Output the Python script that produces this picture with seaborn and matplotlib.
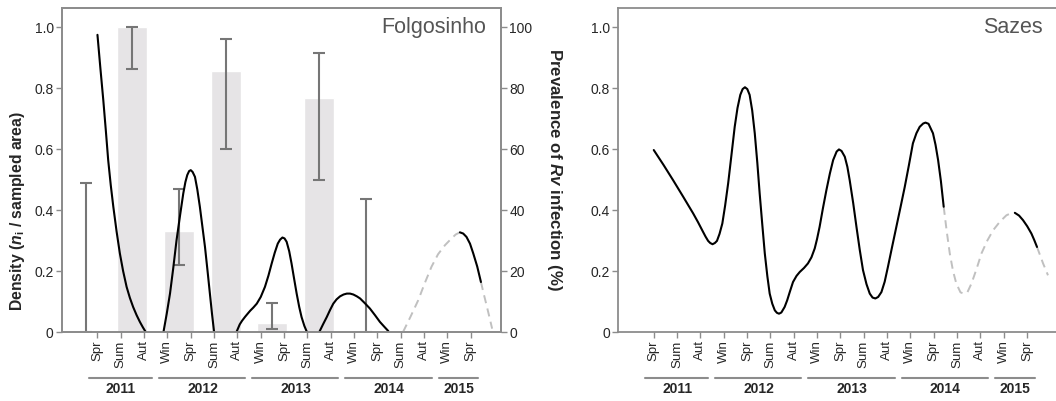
import numpy as np
import pandas as pd
import matplotlib.pyplot as plt
import seaborn as sns

sns.set_style("ticks")
plt.rcParams['font.family'] = ['Liberation Sans', 'DejaVu Sans']
plt.rcParams['mathtext.fontset'] = 'custom'
plt.rcParams['mathtext.it'] = 'Liberation Sans:italic:bold'
plt.rcParams['mathtext.rm'] = 'Liberation Sans:bold'

# axis labels
seasons = ["Spr", "Sum", "Aut", "Win", "Spr", "Sum", "Aut", "Win", "Spr",
           "Sum", "Aut", "Win", "Spr", "Sum", "Aut", "Win", "Spr"]
years = ["2011", "2012", "2013", "2014", "2015"]
year_first = [0, 3, 7, 11, 15]
year_last = [2, 6, 10, 14, 16]
dens_ticks = [0, 0.2, 0.4, 0.6, 0.8, 1.0]
dens_labels = ["0", "0.2", "0.4", "0.6", "0.8", "1.0"]
prev_ticks = [0, 20, 40, 60, 80, 100]

# prevalence of Rv infection in Folgosinho (%), with CI
bar_pos = [-0.5, 1.5, 3.5, 5.5, 7.5, 9.5, 11.5]
bar_prev = [0, 100, 33.2, 85.6, 3.0, 76.7, 0]
bar_lo = [0, 86.2, 21.9, 60.2, 0.9, 49.8, 0]
bar_hi = [49, 100, 46.9, 96.2, 9.5, 91.7, 43.5]

nan = np.nan
# density curve Folgosinho, observed parts (nan = break between pieces)
folg_x = [0.0, 0.12, 0.25, 0.36, 0.46, 0.57, 0.68, 0.82, 0.96, 1.1, 1.25, 1.39, 1.53, 1.68, 1.82, 1.95, 2.07, nan,
          2.83, 2.97, 3.11, 3.25, 3.39, 3.54, 3.68, 3.77, 3.85, 3.93, 4.0, 4.08, 4.18, 4.28, 4.39, 4.5, 4.61, 4.72, 4.82, 4.91, 5.0, nan,
          5.96, 6.1, 6.2, 6.33, 6.45, 6.55, 6.68, 6.83, 7.0, 7.18, 7.33, 7.47, 7.6, 7.73, 7.83, 7.93, 8.02, 8.11, 8.22, 8.32, 8.43, 8.54, 8.65, 8.75, 8.87, 8.98, nan,
          9.51, 9.67, 9.83, 9.97, 10.11, 10.25, 10.4, 10.55, 10.69, 10.83, 10.97, 11.12, 11.26, 11.47, 11.68, 11.9, 12.11, 12.3, 12.47, nan,
          15.54, 15.68, 15.82, 15.97, 16.11, 16.28, 16.44]
folg_y = [0.975, 0.87, 0.761, 0.66, 0.564, 0.482, 0.411, 0.33, 0.258, 0.2, 0.148, 0.112, 0.082, 0.055, 0.033, 0.015, 0.0, nan,
          0.0, 0.06, 0.126, 0.21, 0.301, 0.382, 0.455, 0.492, 0.515, 0.528, 0.531, 0.525, 0.509, 0.468, 0.411, 0.345, 0.279, 0.2, 0.126, 0.06, 0.0, nan,
          0.0, 0.025, 0.037, 0.05, 0.061, 0.07, 0.08, 0.093, 0.115, 0.148, 0.185, 0.225, 0.26, 0.29, 0.303, 0.31, 0.307, 0.296, 0.265, 0.225, 0.175, 0.126, 0.082, 0.049, 0.02, 0.0, nan,
          0.0, 0.025, 0.049, 0.072, 0.093, 0.107, 0.117, 0.123, 0.126, 0.126, 0.123, 0.117, 0.11, 0.094, 0.077, 0.055, 0.033, 0.017, 0.003, nan,
          0.327, 0.323, 0.312, 0.29, 0.258, 0.215, 0.164]

# density curve Folgosinho, missing parts (dashed)
folg_gap_x = [13.1, 13.42, 13.75, 14.03, 14.32, 14.6, 14.9, 15.18, 15.36, 15.54, nan,
              16.44, 16.56, 16.68, 16.8, 16.92]
folg_gap_y = [0.0, 0.05, 0.104, 0.16, 0.214, 0.255, 0.285, 0.307, 0.32, 0.327, nan,
              0.164, 0.125, 0.088, 0.05, 0.011]

# density curve Sazes
saz_x = [0.0, 0.42, 0.83, 1.26, 1.69, 1.9, 2.11, 2.22, 2.33, 2.42, 2.52, 2.62, 2.71, 2.82, 2.94,
         3.06, 3.19, 3.33, 3.47, 3.59, 3.71, 3.81, 3.91, 4.01, 4.11, 4.22, 4.33, 4.44, 4.54,
         4.65, 4.76, 4.87, 4.97, 5.08, 5.19, 5.28, 5.37, 5.47, 5.61, 5.72, 5.83, 5.97, 6.12,
         6.26, 6.44, 6.61, 6.76, 6.9, 7.0, 7.11, 7.25, 7.4, 7.55, 7.69, 7.84, 7.94, 8.05,
         8.19, 8.3, 8.4, 8.55, 8.69, 8.83, 8.97, 9.12, 9.26, 9.38, 9.5, 9.62, 9.76, 9.9,
         10.04, 10.22, 10.4, 10.58, 10.76, 10.94, 11.11, 11.26, 11.4, 11.55, 11.65, 11.78,
         11.97, 12.08, 12.19, 12.31, 12.43, nan,
         15.48, 15.66, 15.83, 16.01, 16.19, 16.31, 16.43]
saz_y = [0.597, 0.548, 0.498, 0.444, 0.389, 0.36, 0.329, 0.313, 0.299, 0.292, 0.288, 0.292, 0.299, 0.322, 0.356,
         0.415, 0.488, 0.58, 0.673, 0.735, 0.778, 0.797, 0.803, 0.797, 0.778, 0.727, 0.652, 0.555, 0.455,
         0.355, 0.258, 0.183, 0.126, 0.093, 0.071, 0.063, 0.06, 0.064, 0.082, 0.104, 0.131, 0.164, 0.184,
         0.197, 0.21, 0.225, 0.245, 0.274, 0.305, 0.345, 0.405, 0.465, 0.52, 0.564, 0.592, 0.599, 0.594,
         0.575, 0.542, 0.498, 0.423, 0.345, 0.27, 0.203, 0.157, 0.126, 0.113, 0.11, 0.115, 0.131, 0.165,
         0.214, 0.28, 0.345, 0.41, 0.476, 0.548, 0.619, 0.652, 0.673, 0.684, 0.687, 0.683,
         0.652, 0.614, 0.564, 0.495, 0.411, nan,
         0.391, 0.382, 0.367, 0.347, 0.323, 0.302, 0.279]

saz_gap_x = [12.43, 12.56, 12.69, 12.83, 12.97, 13.15, 13.29, 13.45, 13.62, 13.83, 14.05, 14.3,
             14.55, 14.84, 15.12, 15.3, 15.48, nan,
             16.43, 16.56, 16.69, 16.8, 16.9]
saz_gap_y = [0.411, 0.33, 0.258, 0.2, 0.159, 0.13, 0.126, 0.131, 0.159, 0.205, 0.258, 0.3,
             0.334, 0.362, 0.383, 0.389, 0.391, nan,
             0.279, 0.252, 0.225, 0.205, 0.186]

GREY = '#8c8c8c'


def pieces(x, y):
    df = pd.DataFrame({"x": x, "y": y})
    df["seg"] = df["x"].isna().cumsum()
    return df.dropna()


def curve(ax, x, y, gx, gy):
    sns.lineplot(data=pieces(gx, gy), x="x", y="y", units="seg", estimator=None,
                 color='#c0c0c0', lw=1.4, linestyle=(0, (4.2, 2.8)), legend=False, ax=ax)
    sns.lineplot(data=pieces(x, y), x="x", y="y", units="seg", estimator=None,
                 color='black', lw=1.5, legend=False, ax=ax)


def style(ax, title):
    ax.set_xlim(-1.52, 17.3)
    ax.set_ylim(0, 1.063)
    ax.set_xticks(range(len(seasons)))
    ax.set_xticklabels(seasons, rotation=90, fontsize=9.5)
    ax.set_yticks(dens_ticks)
    ax.set_yticklabels(dens_labels, fontsize=10)
    ax.tick_params(direction='out', length=4, width=1, color=GREY, pad=2)
    ax.set_xlabel("")
    ax.set_ylabel("")
    for s in ax.spines.values():
        s.set_color(GREY)
        s.set_linewidth(1.3)
    ax.text(0.966, 0.94, title, transform=ax.transAxes, ha='right', va='center',
            fontsize=15.5, color='#555555')
    trans = ax.get_xaxis_transform()
    for yr, f, l in zip(years, year_first, year_last):
        ax.plot([f - 0.37, l + 0.33], [-0.141, -0.141], transform=trans, clip_on=False,
                color=GREY, lw=1.5)
        ax.text((f + l) / 2, -0.177, yr, transform=trans, ha='center', va='center',
                fontsize=10, fontweight='bold')


fig = plt.figure(figsize=(10.56, 4.01), dpi=100)
ax1 = fig.add_axes([62 / 1056, 69 / 401, 439 / 1056, 324 / 401])
ax3 = fig.add_axes([618.3 / 1056, 69 / 401, 439 / 1056, 324 / 401])
ax2 = ax1.twinx()

# prevalence bars on the right axis
sns.barplot(x=bar_pos, y=bar_prev, native_scale=True, width=0.645, color='#e6e4e6',
            saturation=1, errorbar=None, ax=ax2)
ax2.errorbar(bar_pos, bar_prev,
             yerr=[np.subtract(bar_prev, bar_lo), np.subtract(bar_hi, bar_prev)],
             fmt='none', ecolor='#767676', elinewidth=1.5, capsize=4.2, capthick=1.5)
ax1.set_zorder(ax2.get_zorder() + 1)
ax1.patch.set_visible(False)

curve(ax1, folg_x, folg_y, folg_gap_x, folg_gap_y)
curve(ax3, saz_x, saz_y, saz_gap_x, saz_gap_y)

style(ax1, "Folgosinho")
style(ax3, "Sazes")

ax2.set_ylim(0, 106.3)
ax2.set_yticks(prev_ticks)
ax2.set_yticklabels([str(t) for t in prev_ticks], fontsize=10)
ax2.tick_params(direction='out', length=4, width=1, color=GREY, pad=2)
for s in ax2.spines.values():
    s.set_color(GREY)
    s.set_linewidth(1.3)
ax2.set_xlim(-1.52, 17.3)

ax1.set_ylabel(r"Density ($\mathit{n}_{\mathrm{i}}$ / sampled area)", fontsize=11.3,
               fontweight='bold')
ax1.yaxis.set_label_coords(-0.08, 0.373)
ax2.set_ylabel(r"Prevalence of $\mathit{Rv}$ infection (%)", rotation=270, va='bottom',
               fontsize=12.2, fontweight='bold')
ax2.yaxis.set_label_coords(1.1, 0.5)

fig.savefig("out.png", dpi=100)
